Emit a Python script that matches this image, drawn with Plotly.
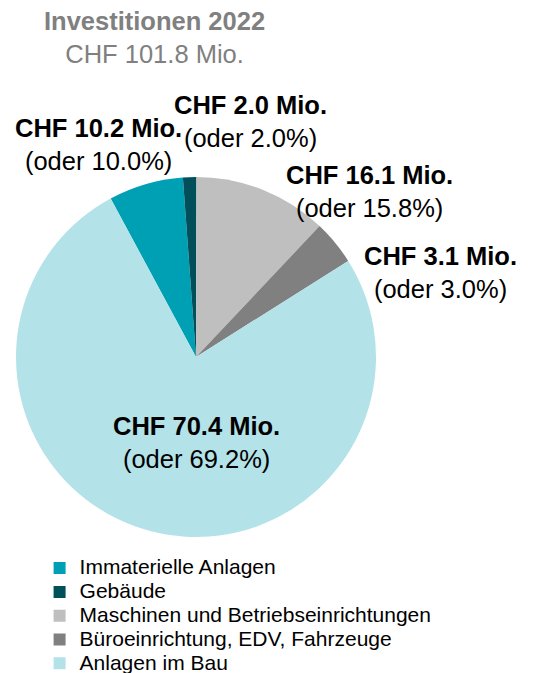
import plotly.graph_objects as go

# categories in legend order
categories = ["Immaterielle Anlagen", "Gebäude", "Maschinen und Betriebseinrichtungen",
              "Büroeinrichtung, EDV, Fahrzeuge", "Anlagen im Bau"]
# slice sizes as drawn in the picture (share of circle, %)
slice_share = [6.7, 1.2, 12.0, 4.0, 76.1]
# amounts and percentages printed in the labels
amount_mio = [10.2, 2.0, 16.1, 3.1, 70.4]
label_pct = [10.0, 2.0, 15.8, 3.0, 69.2]
total_mio = 101.8
colors = ["#00A0B4", "#004F5A", "#BFBFBF", "#808080", "#B3E2E8"]

# where each label sits (paper coords)
label_pos = [(0.1688, 0.7972), (0.4508, 0.8314), (0.6716, 0.7273), (0.8015, 0.6077), (0.3488, 0.3551)]

FONT = "Liberation Sans, Arial"

fig = go.Figure(go.Pie(
    labels=[f'<span style="font-size:21px">{c}</span>' for c in categories],
    values=slice_share,
    sort=False,
    direction="clockwise",
    rotation=-28.3,
    marker=dict(colors=colors, line=dict(width=0)),
    textinfo="none",
    hoverinfo="label+value",
    domain=dict(x=[0.0148, 0.6828], y=[0.2140, 0.7489]),
))

for (x, y), amt, pct in zip(label_pos, amount_mio, label_pct):
    fig.add_annotation(
        x=x, y=y, xref="paper", yref="paper", showarrow=False,
        xanchor="center", yanchor="middle",
        text=f"<b>CHF {amt:.1f} Mio.</b><br>(oder {pct:.1f}%)",
        font=dict(size=25.5, color="#000000", family=FONT),
        align="center",
    )

fig.add_annotation(
    x=0.2727, y=0.9555, xref="paper", yref="paper", showarrow=False,
    xanchor="center", yanchor="middle",
    text=f"<b>Investitionen 2022</b><br>CHF {total_mio:.1f} Mio.",
    font=dict(size=25.5, color="#808080", family=FONT),
    align="center",
)

fig.update_layout(
    width=539, height=673,
    margin=dict(l=0, r=0, t=0, b=0, autoexpand=False),
    paper_bgcolor="white", plot_bgcolor="white",
    font=dict(family=FONT, color="#000000"),
    showlegend=True,
    legend=dict(x=0.0586, y=0.1929, xanchor="left", yanchor="top",
                font=dict(size=16, color="#000000", family=FONT), traceorder="normal",
                itemwidth=30, tracegroupgap=0),
)

fig.write_html("out.html")
